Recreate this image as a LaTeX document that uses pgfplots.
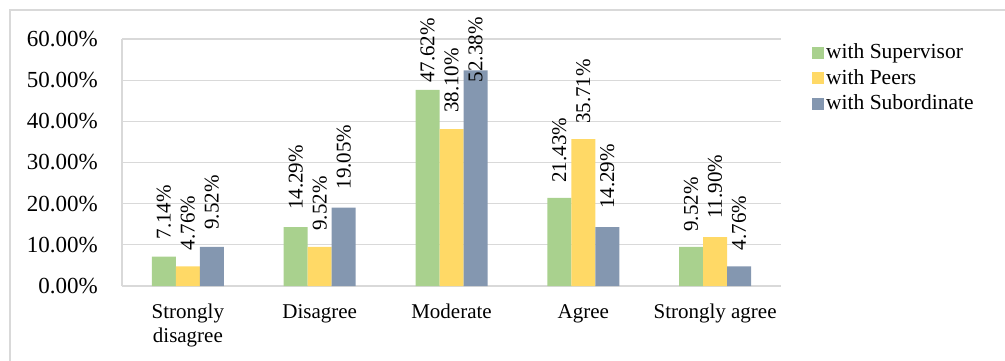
\documentclass[border=0pt]{standalone}
\usepackage{pgfplots}
\pgfplotsset{compat=1.18}
\usepackage{pgfplotstable}
\usepackage{fontspec}
\setmainfont{Liberation Serif}

\definecolor{supgreen}{HTML}{A9D18E}
\definecolor{peeryellow}{HTML}{FFD966}
\definecolor{subblue}{HTML}{8497B0}
\definecolor{gridgray}{HTML}{D9D9D9}

% x: category index, y: share in percent, off: gap between bar top and its label
\pgfplotstableread{
x y off
0 7.14 17
1 14.29 17
2 47.62 7
3 21.43 15
4 9.52 15
}\supervisor
\pgfplotstableread{
x y off
0 4.76 16
1 9.52 16
2 38.10 16
3 35.71 15
4 11.90 18
}\peers
\pgfplotstableread{
x y off
0 9.52 17
1 19.05 18
2 52.38 -12
3 14.29 18
4 4.76 16
}\subordinate

\begin{document}
\fontsize{21}{24}\selectfont
\begin{tikzpicture}[x=1pt,y=1pt]
\path[use as bounding box] (0,0) rectangle (1005,360);
\draw[gridgray, line width=1.3pt] (10,-20) |- (1030,350);
\begin{axis}[
  at={(122pt,74pt)}, anchor=south west,
  scale only axis, width=659pt, height=247pt,
  xmin=-0.5, xmax=4.5, ymin=0, ymax=60,
  ybar=0pt, bar width=24pt,
  xtick={0,...,4},
  xticklabels={{Strongly\\disagree},Disagree,Moderate,Agree,{Strongly agree}},
  xticklabel style={align=center, inner sep=0pt, yshift=-18pt},
  ytick={0,10,...,60},
  yticklabel={\pgfmathprintnumber[fixed,fixed zerofill,precision=2]{\tick}\%},
  yticklabel style={inner sep=0pt, xshift=-24pt, font=\fontsize{23}{26}\selectfont},
  /pgf/number format/assume math mode=true,
  major tick length=0pt,
  axis lines*=left,
  axis line style={-, gridgray, line width=1.3pt},
  ymajorgrids, grid style={gridgray, line width=1.3pt},
  nodes near coords={\pgfmathprintnumber[fixed,fixed zerofill,precision=2]{\pgfplotspointmeta}\%},
  point meta=y,
  visualization depends on={\thisrow{off}\as\laboff},
  every node near coord/.append style={yshift=\laboff pt, rotate=90, anchor=west, inner sep=0pt},
  legend style={at={(1.047,0.99)}, anchor=north west, draw=none, fill=none,
    inner sep=0pt, row sep=3.5pt, nodes={inner sep=2pt},
    font=\fontsize{21.5}{24}\selectfont},
  legend cell align=left,
  clip=false,
]
\addplot[fill=supgreen, draw=none,
  legend image code/.code={\fill[supgreen] (0pt,-6pt) rectangle (12pt,6pt);}]
  table[x=x, y=y] {\supervisor};
\addplot[fill=peeryellow, draw=none,
  legend image code/.code={\fill[peeryellow] (0pt,-6pt) rectangle (12pt,6pt);}]
  table[x=x, y=y] {\peers};
\addplot[fill=subblue, draw=none,
  legend image code/.code={\fill[subblue] (0pt,-6pt) rectangle (12pt,6pt);}]
  table[x=x, y=y] {\subordinate};
\legend{with Supervisor, with Peers, with Subordinate}
\end{axis}
\end{tikzpicture}
\end{document}
